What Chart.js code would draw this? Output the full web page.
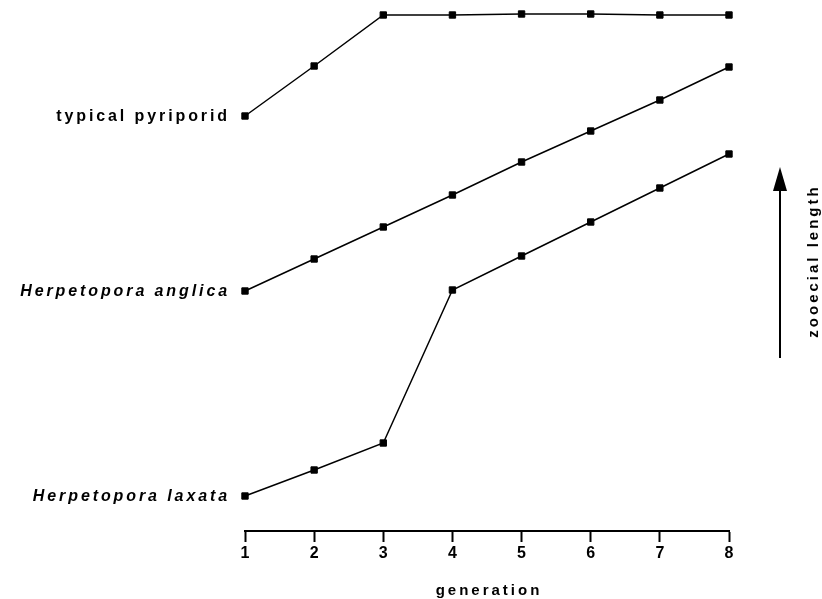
<!DOCTYPE html>
<html>
<head>
<meta charset="utf-8">
<script src="https://cdn.jsdelivr.net/npm/chart.js"></script>
<style>
  html, body { margin: 0; padding: 0; background: #fff; }
  #wrap { width: 822px; height: 599px; }
</style>
</head>
<body>
<div id="wrap"><canvas id="chart" width="822" height="599"></canvas></div>
<script>
// generations on the x axis
const generations = [1, 2, 3, 4, 5, 6, 7, 8];

// zooecial length, arbitrary units
const typicalPyriporid = [415, 465, 516, 516, 517, 517, 516, 516];
const herpetoporaAnglica = [240, 272, 304, 336, 369, 400, 431, 464];
const herpetoporaLaxata = [35, 61, 88, 241, 275, 309, 343, 377];

const seriesNames = ['typical pyriporid', 'Herpetopora anglica', 'Herpetopora laxata'];
const seriesItalic = [false, true, true];

const FONT = '"Liberation Sans", Arial, Helvetica, sans-serif';

function toPoints(values) {
  return generations.map((g, i) => ({ x: g, y: values[i] }));
}

function makeSet(label, values) {
  return {
    label: label,
    data: toPoints(values),
    borderColor: '#000',
    borderWidth: 1.5,
    backgroundColor: '#000',
    pointStyle: 'rect',
    pointRadius: 4.5,
    pointBorderWidth: 1,
    pointBorderColor: '#000',
    pointBackgroundColor: '#000',
    tension: 0,
    clip: false
  };
}

// series names on the left, next to the first point of each line
const seriesLabels = {
  id: 'seriesLabels',
  afterDatasetsDraw(chart) {
    const ctx = chart.ctx;
    ctx.save();
    ctx.fillStyle = '#000';
    ctx.textAlign = 'right';
    ctx.textBaseline = 'middle';
    ctx.letterSpacing = '2.9px';
    chart.data.datasets.forEach((ds, i) => {
      const pt = chart.getDatasetMeta(i).data[0];
      ctx.font = (seriesItalic[i] ? 'italic ' : '') + 'bold 16px ' + FONT;
      ctx.fillText(ds.label, pt.x - 15, pt.y + 1);
    });
    ctx.restore();
  }
};

// arrow with "zooecial length" on the right, and the x axis title
const extraText = {
  id: 'extraText',
  afterDraw(chart) {
    const ctx = chart.ctx;
    const x = 780, top = 167, bottom = 358;
    ctx.save();
    ctx.strokeStyle = '#000';
    ctx.fillStyle = '#000';
    ctx.lineWidth = 2;
    ctx.beginPath();
    ctx.moveTo(x, bottom);
    ctx.lineTo(x, top + 18);
    ctx.stroke();
    ctx.beginPath();
    ctx.moveTo(x, top);
    ctx.lineTo(x - 7, top + 24);
    ctx.lineTo(x + 7, top + 24);
    ctx.closePath();
    ctx.fill();

    // x axis title, letter-spaced
    const xs = chart.scales.x;
    ctx.font = 'bold 15px ' + FONT;
    ctx.letterSpacing = '3px';
    ctx.textAlign = 'center';
    ctx.textBaseline = 'middle';
    ctx.fillText('generation', (xs.left + xs.right) / 2 + 2, 591);

    ctx.translate(814, 261);
    ctx.rotate(-Math.PI / 2);
    ctx.font = 'bold 15px ' + FONT;
    ctx.letterSpacing = '3px';
    ctx.fillText('zooecial length', 0, 0);
    ctx.restore();
  }
};

new Chart(document.getElementById('chart'), {
  type: 'line',
  data: {
    datasets: [
      makeSet(seriesNames[0], typicalPyriporid),
      makeSet(seriesNames[1], herpetoporaAnglica),
      makeSet(seriesNames[2], herpetoporaLaxata)
    ]
  },
  options: {
    responsive: false,
    animation: false,
    events: [],
    layout: { padding: { left: 245, right: 93, top: 10, bottom: 0 } },
    plugins: {
      legend: { display: false },
      tooltip: { enabled: false }
    },
    scales: {
      x: {
        type: 'linear',
        min: 1,
        max: 8,
        position: 'bottom',
        afterFit(scale) { scale.height = 68; },
        border: { display: true, color: '#000', width: 2 },
        grid: {
          drawOnChartArea: false,
          drawTicks: true,
          tickLength: 11,
          tickWidth: 2,
          tickColor: '#000'
        },
        ticks: {
          stepSize: 1,
          color: '#000',
          padding: 2,
          font: { family: FONT, size: 16, weight: 'bold' }
        }
      },
      y: {
        display: false,
        min: 0,
        max: 521
      }
    }
  },
  plugins: [seriesLabels, extraText]
});
</script>
</body>
</html>
